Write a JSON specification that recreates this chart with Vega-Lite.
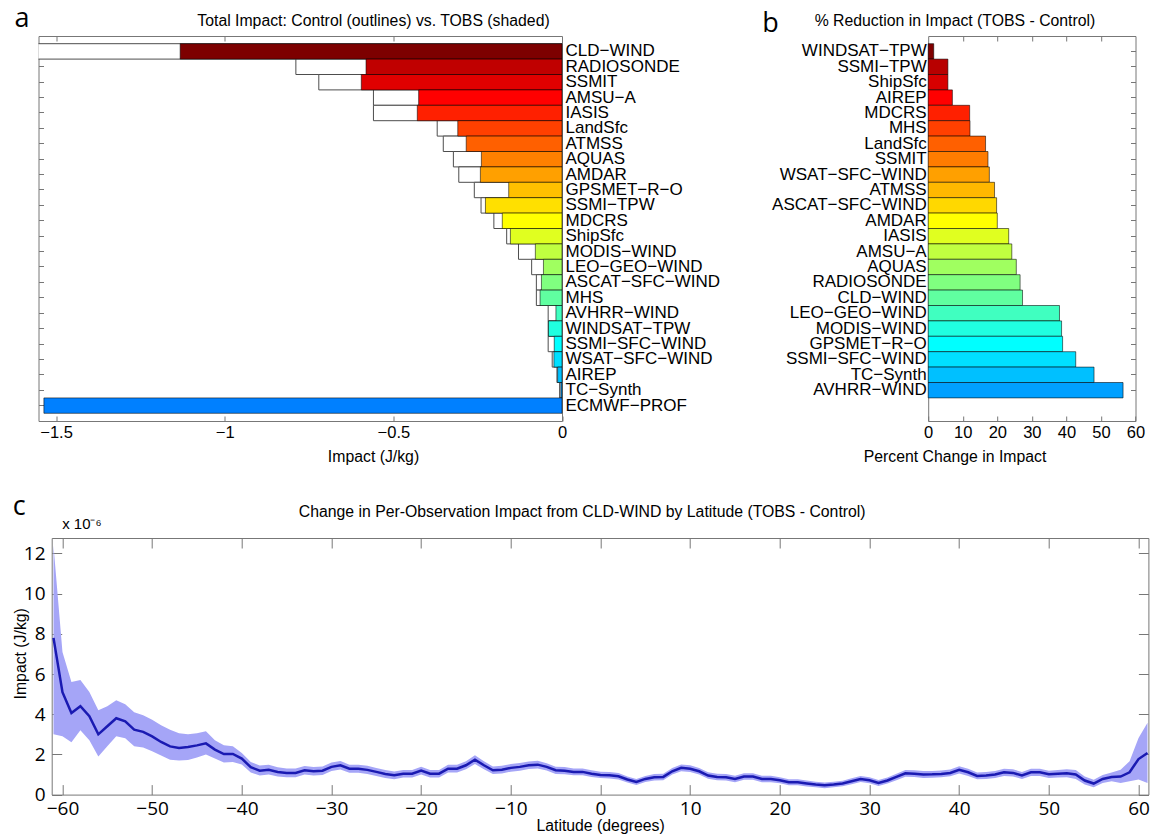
{
  "$schema": "https://vega.github.io/schema/vega-lite/v6.json",
  "padding": {"left": 10.5, "top": 4, "right": 0, "bottom": 0},
  "background": "white",
  "config": {
    "font": "Liberation Sans",
    "view": {"stroke": "#777777", "strokeWidth": 1},
    "axis": {"domain": false, "grid": false, "labelFlush": false, "tickColor": "#777777", "labelColor": "#000000", "titleColor": "#000000", "titleFontWeight": "normal", "labelFont": "Liberation Sans", "titleFont": "Liberation Sans"},
    "title": {"font": "Open Sans", "fontSize": 27, "fontWeight": "normal", "anchor": "start", "frame": "group", "color": "#000000"}
  },
  "bounds": "flush",
  "align": "each",
  "columns": 2,
  "spacing": {"row": 117, "column": 365.7},
  "resolve": {"scale": {"color": "independent", "x": "independent", "y": "independent"}},
  "concat": [
    {
      "width": 523.5,
      "height": 385,
      "title": {"text": "a", "dx": -24, "dy": 24},
      "data": {"values": [
        {"name": "CLD-WIND", "control": -1.56, "tobs": -1.132},
        {"name": "RADIOSONDE", "control": -0.789, "tobs": -0.581},
        {"name": "SSMIT", "control": -0.721, "tobs": -0.595},
        {"name": "AMSU-A", "control": -0.559, "tobs": -0.425},
        {"name": "IASIS", "control": -0.559, "tobs": -0.429},
        {"name": "LandSfc", "control": -0.370, "tobs": -0.309},
        {"name": "ATMSS", "control": -0.352, "tobs": -0.284},
        {"name": "AQUAS", "control": -0.322, "tobs": -0.239},
        {"name": "AMDAR", "control": -0.306, "tobs": -0.242},
        {"name": "GPSMET-R-O", "control": -0.260, "tobs": -0.158},
        {"name": "SSMI-TPW", "control": -0.240, "tobs": -0.227},
        {"name": "MDCRS", "control": -0.202, "tobs": -0.177},
        {"name": "ShipSfc", "control": -0.164, "tobs": -0.153},
        {"name": "MODIS-WIND", "control": -0.129, "tobs": -0.079},
        {"name": "LEO-GEO-WIND", "control": -0.090, "tobs": -0.055},
        {"name": "ASCAT-SFC-WIND", "control": -0.076, "tobs": -0.061},
        {"name": "MHS", "control": -0.076, "tobs": -0.065},
        {"name": "AVHRR-WIND", "control": -0.041, "tobs": -0.018},
        {"name": "WINDSAT-TPW", "control": -0.041, "tobs": -0.040},
        {"name": "SSMI-SFC-WIND", "control": -0.041, "tobs": -0.023},
        {"name": "WSAT-SFC-WIND", "control": -0.029, "tobs": -0.024},
        {"name": "AIREP", "control": -0.015, "tobs": -0.013},
        {"name": "TC-Synth", "control": -0.007, "tobs": -0.0035},
        {"name": "ECMWF-PROF", "control": null, "tobs": -1.536}
      ]},
      "layer": [
        {
          "mark": {"type": "bar", "fill": "white", "stroke": "#4d4d4d", "strokeWidth": 1, "clip": true},
          "encoding": {
            "y": {"field": "name", "type": "nominal", "sort": null, "scale": {"paddingInner": 0, "paddingOuter": 0.5},
                  "axis": {"orient": "left", "labels": false, "ticks": true, "tickSize": -5, "title": null}},
            "x": {"field": "control", "type": "quantitative", "scale": {"domain": [-1.552, 0], "nice": false},
                  "axis": {"orient": "bottom", "values": [-1.5, -1, -0.5, 0], "format": "~g", "tickSize": -5, "labelFontSize": 16.5, "labelPadding": 8.2, "title": "Impact (J/kg)", "titleFontSize": 15.8, "titleX": 334.5, "titlePadding": 8.5}}
          }
        },
        {
          "mark": {"type": "bar", "stroke": "black", "strokeOpacity": 0.55, "strokeWidth": 1},
          "encoding": {
            "y": {"field": "name", "type": "nominal", "sort": null, "scale": {"paddingInner": 0, "paddingOuter": 0.5},
                  "axis": {"orient": "right", "ticks": false, "labelFontSize": 17, "labelPadding": 3, "labelExpr": "join(split(datum.label, '-'), '−')", "title": null}},
            "x": {"field": "tobs", "type": "quantitative", "scale": {"domain": [-1.552, 0], "nice": false},
                  "axis": {"orient": "top", "labels": false, "values": [-1.5, -1, -0.5], "tickSize": -5, "title": "Total Impact: Control (outlines) vs. TOBS (shaded)", "titleFontSize": 15.8, "titleX": 334.5, "titlePadding": 7}},
            "color": {"field": "name", "type": "nominal", "legend": null,
              "scale": {
                "domain": ["CLD-WIND", "RADIOSONDE", "SSMIT", "AMSU-A", "IASIS", "LandSfc", "ATMSS", "AQUAS", "AMDAR", "GPSMET-R-O", "SSMI-TPW", "MDCRS", "ShipSfc", "MODIS-WIND", "LEO-GEO-WIND", "ASCAT-SFC-WIND", "MHS", "AVHRR-WIND", "WINDSAT-TPW", "SSMI-SFC-WIND", "WSAT-SFC-WIND", "AIREP", "TC-Synth", "ECMWF-PROF"],
                "range": ["#7d0000", "#c00000", "#e00000", "#ff0000", "#ff2000", "#ff4000", "#ff6000", "#ff8000", "#ffa000", "#ffc000", "#ffe000", "#ffff00", "#e0ff20", "#c0ff40", "#a0ff60", "#80ff80", "#60ffa0", "#40ffc0", "#20ffe0", "#00ffff", "#00e0ff", "#00c0ff", "#00a0ff", "#0080ff"]
              }}
          }
        }
      ],
      "resolve": {"axis": {"x": "independent", "y": "independent"}}
    },
    {
      "width": 207.3,
      "height": 385,
      "title": {"text": "b", "dx": -166, "dy": 29},
      "data": {"values": [
        {"name": "WINDSAT-TPW", "pct": 1.6},
        {"name": "SSMI-TPW", "pct": 5.7},
        {"name": "ShipSfc", "pct": 5.7},
        {"name": "AIREP", "pct": 7.0},
        {"name": "MDCRS", "pct": 12.0},
        {"name": "MHS", "pct": 12.1},
        {"name": "LandSfc", "pct": 16.6},
        {"name": "SSMIT", "pct": 17.3},
        {"name": "WSAT-SFC-WIND", "pct": 17.7},
        {"name": "ATMSS", "pct": 19.2},
        {"name": "ASCAT-SFC-WIND", "pct": 19.8},
        {"name": "AMDAR", "pct": 20.0},
        {"name": "IASIS", "pct": 23.3},
        {"name": "AMSU-A", "pct": 24.2},
        {"name": "AQUAS", "pct": 25.5},
        {"name": "RADIOSONDE", "pct": 26.6},
        {"name": "CLD-WIND", "pct": 27.3},
        {"name": "LEO-GEO-WIND", "pct": 38.0},
        {"name": "MODIS-WIND", "pct": 38.6},
        {"name": "GPSMET-R-O", "pct": 38.9},
        {"name": "SSMI-SFC-WIND", "pct": 42.7},
        {"name": "TC-Synth", "pct": 48.0},
        {"name": "AVHRR-WIND", "pct": 56.4}
      ]},
      "layer": [
        {
          "mark": {"type": "bar", "stroke": "black", "strokeOpacity": 0.55, "strokeWidth": 1},
          "encoding": {
            "y": {"field": "name", "type": "nominal", "sort": null, "scale": {"paddingInner": 0, "paddingOuter": 1, "align": 0.25},
                  "axis": {"orient": "left", "ticks": false, "labelFontSize": 17, "labelPadding": 2, "labelExpr": "join(split(datum.label, '-'), '−')", "title": null}},
            "x": {"field": "pct", "type": "quantitative", "scale": {"domain": [0, 60], "nice": false},
                  "axis": {"orient": "bottom", "values": [0, 10, 20, 30, 40, 50, 60], "tickSize": -5, "labelFontSize": 16.5, "labelPadding": 8.2, "title": "Percent Change in Impact", "titleFontSize": 15.8, "titleX": 26.3, "titlePadding": 8.5}},
            "color": {"field": "name", "type": "nominal", "legend": null,
              "scale": {
                "domain": ["WINDSAT-TPW", "SSMI-TPW", "ShipSfc", "AIREP", "MDCRS", "MHS", "LandSfc", "SSMIT", "WSAT-SFC-WIND", "ATMSS", "ASCAT-SFC-WIND", "AMDAR", "IASIS", "AMSU-A", "AQUAS", "RADIOSONDE", "CLD-WIND", "LEO-GEO-WIND", "MODIS-WIND", "GPSMET-R-O", "SSMI-SFC-WIND", "TC-Synth", "AVHRR-WIND"],
                "range": ["#800000", "#b80000", "#d80000", "#ff0000", "#ff2000", "#ff4000", "#ff6000", "#ff7c00", "#ffa000", "#ffb800", "#ffd800", "#ffff00", "#e0ff20", "#c0ff40", "#a0ff60", "#80ff80", "#60ffa0", "#40ffc0", "#20ffe0", "#00ffff", "#00e0ff", "#00c0ff", "#00a0ff"]
              }}
          }
        },
        {
          "mark": {"type": "bar", "opacity": 0},
          "encoding": {
            "y": {"field": "name", "type": "nominal", "sort": null, "scale": {"paddingInner": 0, "paddingOuter": 1, "align": 0.25},
                  "axis": {"orient": "right", "labels": false, "tickSize": -5, "title": null}},
            "x": {"field": "pct", "type": "quantitative", "scale": {"domain": [0, 60], "nice": false},
                  "axis": {"orient": "top", "labels": false, "values": [10, 20, 30, 40, 50], "tickSize": -5, "title": "% Reduction in Impact (TOBS - Control)", "titleFontSize": 15.8, "titleX": 26.3, "titlePadding": 7}}
          }
        }
      ],
      "resolve": {"axis": {"x": "independent", "y": "independent"}}
    },
    {
      "bounds": "flush",
      "spacing": 12.2,
      "hconcat": [
        {
          "width": 1,
          "height": 256.6,
          "data": {"values": []},
          "mark": "point",
          "encoding": {},
          "view": {"stroke": null}
        },
        {
          "width": 1096.7,
          "height": 256.6,
          "title": {"text": "c", "dx": -39, "dy": 21},
          "data": {"values": [
            {"lat": -61, "v": 7.8, "lo": 3.0, "hi": 12.4},
            {"lat": -60, "v": 5.1, "lo": 2.9, "hi": 7.1},
            {"lat": -59, "v": 4.06, "lo": 2.6, "hi": 5.6},
            {"lat": -58, "v": 4.4, "lo": 3.2, "hi": 5.7},
            {"lat": -57, "v": 3.9, "lo": 2.7, "hi": 5.1},
            {"lat": -56, "v": 3.0, "lo": 1.9, "hi": 4.2},
            {"lat": -55, "v": 3.4, "lo": 2.4, "hi": 4.4},
            {"lat": -54, "v": 3.8, "lo": 2.9, "hi": 4.7},
            {"lat": -53, "v": 3.65, "lo": 2.8, "hi": 4.5},
            {"lat": -52, "v": 3.23, "lo": 2.4, "hi": 4.1},
            {"lat": -51, "v": 3.12, "lo": 2.35, "hi": 3.95},
            {"lat": -50, "v": 2.9, "lo": 2.16, "hi": 3.73},
            {"lat": -49, "v": 2.62, "lo": 1.95, "hi": 3.45},
            {"lat": -48, "v": 2.4, "lo": 1.74, "hi": 3.23},
            {"lat": -47, "v": 2.32, "lo": 1.7, "hi": 3.05},
            {"lat": -46, "v": 2.37, "lo": 1.72, "hi": 3.0},
            {"lat": -45, "v": 2.45, "lo": 1.85, "hi": 3.05},
            {"lat": -44, "v": 2.55, "lo": 2.0, "hi": 3.15},
            {"lat": -43, "v": 2.24, "lo": 1.8, "hi": 2.7},
            {"lat": -42, "v": 2.02, "lo": 1.6, "hi": 2.45},
            {"lat": -41, "v": 2.02, "lo": 1.62, "hi": 2.4},
            {"lat": -40, "v": 1.79, "lo": 1.5, "hi": 2.07},
            {"lat": -39, "v": 1.36, "lo": 1.1, "hi": 1.62},
            {"lat": -38, "v": 1.19, "lo": 0.95, "hi": 1.45},
            {"lat": -37, "v": 1.24, "lo": 1.0, "hi": 1.48},
            {"lat": -36, "v": 1.13, "lo": 0.9, "hi": 1.36},
            {"lat": -35, "v": 1.08, "lo": 0.86, "hi": 1.3},
            {"lat": -34, "v": 1.08, "lo": 0.86, "hi": 1.3},
            {"lat": -33, "v": 1.21, "lo": 1.0, "hi": 1.42},
            {"lat": -32, "v": 1.16, "lo": 0.95, "hi": 1.37},
            {"lat": -31, "v": 1.19, "lo": 0.98, "hi": 1.4},
            {"lat": -30, "v": 1.38, "lo": 1.17, "hi": 1.6},
            {"lat": -29, "v": 1.46, "lo": 1.25, "hi": 1.67},
            {"lat": -28, "v": 1.29, "lo": 1.09, "hi": 1.49},
            {"lat": -27, "v": 1.29, "lo": 1.09, "hi": 1.49},
            {"lat": -26, "v": 1.23, "lo": 1.03, "hi": 1.43},
            {"lat": -25, "v": 1.13, "lo": 0.93, "hi": 1.33},
            {"lat": -24, "v": 1.03, "lo": 0.83, "hi": 1.23},
            {"lat": -23, "v": 0.96, "lo": 0.77, "hi": 1.15},
            {"lat": -22, "v": 1.04, "lo": 0.85, "hi": 1.23},
            {"lat": -21, "v": 1.04, "lo": 0.85, "hi": 1.23},
            {"lat": -20, "v": 1.19, "lo": 1.0, "hi": 1.38},
            {"lat": -19, "v": 1.04, "lo": 0.85, "hi": 1.23},
            {"lat": -18, "v": 1.04, "lo": 0.85, "hi": 1.23},
            {"lat": -17, "v": 1.29, "lo": 1.1, "hi": 1.48},
            {"lat": -16, "v": 1.29, "lo": 1.1, "hi": 1.48},
            {"lat": -15, "v": 1.46, "lo": 1.26, "hi": 1.66},
            {"lat": -14, "v": 1.74, "lo": 1.52, "hi": 1.96},
            {"lat": -13, "v": 1.46, "lo": 1.26, "hi": 1.66},
            {"lat": -12, "v": 1.21, "lo": 1.02, "hi": 1.4},
            {"lat": -11, "v": 1.24, "lo": 1.05, "hi": 1.43},
            {"lat": -10, "v": 1.33, "lo": 1.14, "hi": 1.52},
            {"lat": -9, "v": 1.38, "lo": 1.19, "hi": 1.57},
            {"lat": -8, "v": 1.46, "lo": 1.27, "hi": 1.65},
            {"lat": -7, "v": 1.49, "lo": 1.3, "hi": 1.68},
            {"lat": -6, "v": 1.38, "lo": 1.2, "hi": 1.56},
            {"lat": -5, "v": 1.21, "lo": 1.03, "hi": 1.39},
            {"lat": -4, "v": 1.19, "lo": 1.01, "hi": 1.37},
            {"lat": -3, "v": 1.13, "lo": 0.96, "hi": 1.3},
            {"lat": -2, "v": 1.13, "lo": 0.96, "hi": 1.3},
            {"lat": -1, "v": 1.04, "lo": 0.87, "hi": 1.21},
            {"lat": 0, "v": 0.98, "lo": 0.82, "hi": 1.14},
            {"lat": 1, "v": 0.96, "lo": 0.8, "hi": 1.12},
            {"lat": 2, "v": 0.91, "lo": 0.75, "hi": 1.07},
            {"lat": 3, "v": 0.75, "lo": 0.6, "hi": 0.9},
            {"lat": 4, "v": 0.63, "lo": 0.48, "hi": 0.78},
            {"lat": 5, "v": 0.78, "lo": 0.63, "hi": 0.93},
            {"lat": 6, "v": 0.86, "lo": 0.7, "hi": 1.02},
            {"lat": 7, "v": 0.88, "lo": 0.72, "hi": 1.04},
            {"lat": 8, "v": 1.16, "lo": 1.0, "hi": 1.32},
            {"lat": 9, "v": 1.33, "lo": 1.16, "hi": 1.5},
            {"lat": 10, "v": 1.29, "lo": 1.12, "hi": 1.46},
            {"lat": 11, "v": 1.16, "lo": 1.0, "hi": 1.32},
            {"lat": 12, "v": 0.95, "lo": 0.79, "hi": 1.11},
            {"lat": 13, "v": 0.88, "lo": 0.72, "hi": 1.04},
            {"lat": 14, "v": 0.86, "lo": 0.7, "hi": 1.02},
            {"lat": 15, "v": 0.78, "lo": 0.62, "hi": 0.94},
            {"lat": 16, "v": 0.9, "lo": 0.74, "hi": 1.06},
            {"lat": 17, "v": 0.9, "lo": 0.74, "hi": 1.06},
            {"lat": 18, "v": 0.78, "lo": 0.62, "hi": 0.94},
            {"lat": 19, "v": 0.78, "lo": 0.62, "hi": 0.94},
            {"lat": 20, "v": 0.71, "lo": 0.56, "hi": 0.86},
            {"lat": 21, "v": 0.61, "lo": 0.46, "hi": 0.76},
            {"lat": 22, "v": 0.61, "lo": 0.46, "hi": 0.76},
            {"lat": 23, "v": 0.55, "lo": 0.4, "hi": 0.7},
            {"lat": 24, "v": 0.5, "lo": 0.36, "hi": 0.64},
            {"lat": 25, "v": 0.46, "lo": 0.32, "hi": 0.6},
            {"lat": 26, "v": 0.5, "lo": 0.36, "hi": 0.64},
            {"lat": 27, "v": 0.55, "lo": 0.41, "hi": 0.69},
            {"lat": 28, "v": 0.66, "lo": 0.51, "hi": 0.81},
            {"lat": 29, "v": 0.78, "lo": 0.63, "hi": 0.93},
            {"lat": 30, "v": 0.71, "lo": 0.56, "hi": 0.86},
            {"lat": 31, "v": 0.58, "lo": 0.43, "hi": 0.73},
            {"lat": 32, "v": 0.7, "lo": 0.55, "hi": 0.85},
            {"lat": 33, "v": 0.88, "lo": 0.72, "hi": 1.04},
            {"lat": 34, "v": 1.06, "lo": 0.89, "hi": 1.23},
            {"lat": 35, "v": 1.04, "lo": 0.87, "hi": 1.21},
            {"lat": 36, "v": 1.0, "lo": 0.83, "hi": 1.17},
            {"lat": 37, "v": 1.01, "lo": 0.84, "hi": 1.18},
            {"lat": 38, "v": 1.03, "lo": 0.86, "hi": 1.2},
            {"lat": 39, "v": 1.08, "lo": 0.91, "hi": 1.25},
            {"lat": 40, "v": 1.23, "lo": 1.05, "hi": 1.41},
            {"lat": 41, "v": 1.11, "lo": 0.93, "hi": 1.29},
            {"lat": 42, "v": 0.93, "lo": 0.76, "hi": 1.1},
            {"lat": 43, "v": 0.95, "lo": 0.78, "hi": 1.12},
            {"lat": 44, "v": 1.0, "lo": 0.83, "hi": 1.17},
            {"lat": 45, "v": 1.11, "lo": 0.93, "hi": 1.29},
            {"lat": 46, "v": 1.08, "lo": 0.9, "hi": 1.26},
            {"lat": 47, "v": 0.95, "lo": 0.78, "hi": 1.12},
            {"lat": 48, "v": 1.11, "lo": 0.93, "hi": 1.29},
            {"lat": 49, "v": 1.11, "lo": 0.93, "hi": 1.29},
            {"lat": 50, "v": 1.01, "lo": 0.83, "hi": 1.19},
            {"lat": 51, "v": 1.04, "lo": 0.85, "hi": 1.23},
            {"lat": 52, "v": 1.06, "lo": 0.86, "hi": 1.26},
            {"lat": 53, "v": 1.0, "lo": 0.78, "hi": 1.22},
            {"lat": 54, "v": 0.7, "lo": 0.5, "hi": 0.9},
            {"lat": 55, "v": 0.55, "lo": 0.36, "hi": 0.74},
            {"lat": 56, "v": 0.78, "lo": 0.58, "hi": 0.98},
            {"lat": 57, "v": 0.88, "lo": 0.66, "hi": 1.1},
            {"lat": 58, "v": 0.9, "lo": 0.58, "hi": 1.24},
            {"lat": 59, "v": 1.11, "lo": 0.66, "hi": 1.66},
            {"lat": 60, "v": 1.77, "lo": 0.75, "hi": 2.82},
            {"lat": 61, "v": 2.07, "lo": 0.58, "hi": 3.57}
          ]},
          "layer": [
            {
              "mark": {"type": "area", "color": "#a5a5f7", "clip": true},
              "encoding": {
                "x": {"field": "lat", "type": "quantitative", "scale": {"domain": [-61.2, 61.1], "nice": false, "zero": false},
                      "axis": {"orient": "bottom", "values": [-60, -50, -40, -30, -20, -10, 0, 10, 20, 30, 40, 50, 60], "tickSize": -10, "labelFont": "Open Sans", "labelFontSize": 19, "labelPadding": 15.3, "title": "Latitude (degrees)", "titleFontSize": 15.8, "titlePadding": 0}},
                "y": {"field": "lo", "type": "quantitative", "scale": {"domain": [0, 12.77], "nice": false},
                      "axis": {"orient": "left", "values": [0, 2, 4, 6, 8, 10, 12], "tickSize": -10, "labelFont": "Open Sans", "labelFontSize": 19, "labelPadding": 16.7, "title": "Impact (J/kg)", "titleFontSize": 15.8, "titleAngle": 270, "titleX": -31.7, "titleY": 115.3, "titleAlign": "center", "titleBaseline": "middle"}},
                "y2": {"field": "hi"}
              }
            },
            {
              "mark": {"type": "line", "color": "#1a1ab2", "strokeWidth": 2.5, "clip": true},
              "encoding": {
                "x": {"field": "lat", "type": "quantitative", "scale": {"domain": [-61.2, 61.1], "nice": false, "zero": false},
                      "axis": {"orient": "top", "labels": false, "values": [-60, -50, -40, -30, -20, -10, 0, 10, 20, 30, 40, 50, 60], "tickSize": -10, "title": "Change in Per-Observation Impact from CLD-WIND by Latitude (TOBS - Control)", "titleFontSize": 15.8, "titleX": 530, "titlePadding": 18}},
                "y": {"field": "v", "type": "quantitative", "scale": {"domain": [0, 12.77], "nice": false},
                      "axis": {"orient": "right", "labels": false, "values": [0, 2, 4, 6, 8, 10, 12], "tickSize": -10, "title": "x 10⁻⁶", "titleAngle": 0, "titleX": -1067, "titleY": -10, "titleAlign": "center", "titleBaseline": "alphabetic", "titleFontSize": 15}}
              }
            }
          ],
          "resolve": {"axis": {"x": "independent", "y": "independent"}}
        }
      ]
    }
  ]
}
